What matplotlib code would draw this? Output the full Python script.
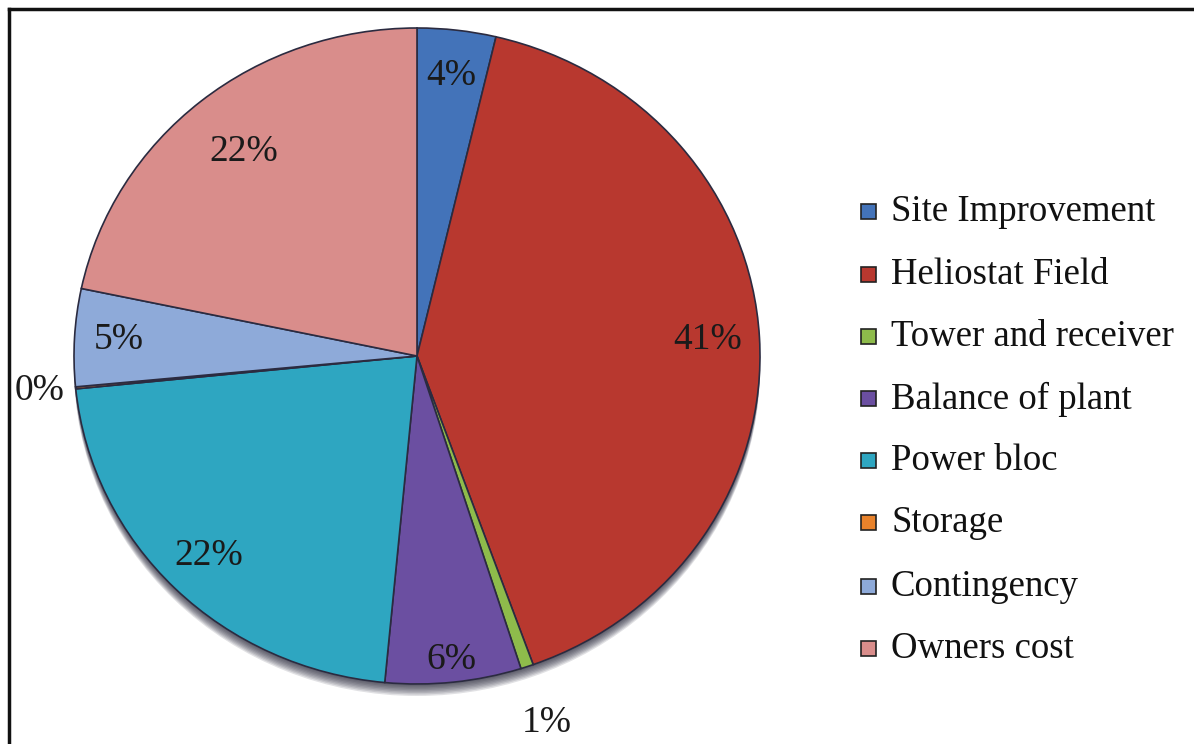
import numpy as np
import matplotlib
matplotlib.use("Agg")
import matplotlib.pyplot as plt
from matplotlib.patches import Ellipse, Rectangle
from matplotlib.lines import Line2D

# Cost breakdown of the plant (percent of total)
categories = ["Site Improvement", "Heliostat Field", "Tower and receiver",
              "Balance of plant", "Power bloc", "Storage", "Contingency",
              "Owners cost"]
shares = [3.7, 40.8, 0.6, 6.4, 21.9, 0.1, 4.8, 21.7]

colors = ["#4373B9", "#B8382F", "#8EBB4B", "#6B4FA1",
          "#2EA6C1", "#E8822B", "#8EAAD9", "#D98D8B"]

# radial position of each percentage label (fraction of the radius)
label_dist = [0.86, 0.85, 1.18, 0.93, 0.86, 1.105, 0.87, 0.80]

W, H = 1194, 744
fig = plt.figure(figsize=(W / 100, H / 100), dpi=100)
ax = fig.add_axes([0, 0, 1, 1])

cx_px, cy_px = 417, 356      # pie centre (pixels from top-left)
rx_px, ry_px = 343, 328      # slightly flattened pie

serif = ["Liberation Serif", "DejaVu Serif"]

# soft shadow under the pie
for k, off in enumerate(np.linspace(12, 2, 8)):
    ax.add_patch(Ellipse((0, -off / ry_px), 2.0, 2.0, facecolor="#1c1c30",
                         edgecolor="none", alpha=0.13, zorder=0))

wedges, _ = ax.pie(shares, colors=colors, startangle=90, counterclock=False,
                   radius=1.0, center=(0, 0), frame=True,
                   wedgeprops=dict(edgecolor="#2b2b40", linewidth=1.2))
for w in wedges:
    w.set_zorder(2)

ax.set_aspect("auto")
ax.set_xlim(-cx_px / rx_px, (W - cx_px) / rx_px)
ax.set_ylim(-(H - cy_px) / ry_px, cy_px / ry_px)
ax.axis("off")

total = sum(shares)
for w, v, d in zip(wedges, shares, label_dist):
    mid = np.deg2rad((w.theta1 + w.theta2) / 2)
    ax.text(d * np.cos(mid), d * np.sin(mid), f"{100 * v / total:.0f}%",
            ha="center", va="center", fontsize=27, family=serif,
            color="#1a1a1a", zorder=5)

# legend drawn in figure pixel coordinates
row_y = [212, 275, 337, 399, 461, 523, 587, 649]
for name, c, y in zip(categories, colors, row_y):
    fig.patches.append(Rectangle(((861) / W, 1 - (y + 7) / H), 15 / W, 15 / H,
                                 transform=fig.transFigure, facecolor=c,
                                 edgecolor="#222222", linewidth=1.2))
    fig.text(891 / W, 1 - y / H, name, ha="left", va="center",
             fontsize=26.5, family=serif, color="#111111")

# chart frame (top and left edges visible)
fig.add_artist(Line2D([9 / W, 1.0], [1 - 9 / H, 1 - 9 / H],
                      transform=fig.transFigure, color="#111111", linewidth=2.5))
fig.add_artist(Line2D([9 / W, 9 / W], [0.0, 1 - 9 / H],
                      transform=fig.transFigure, color="#111111", linewidth=2.5))

fig.savefig("out.png", dpi=100, facecolor="white")
